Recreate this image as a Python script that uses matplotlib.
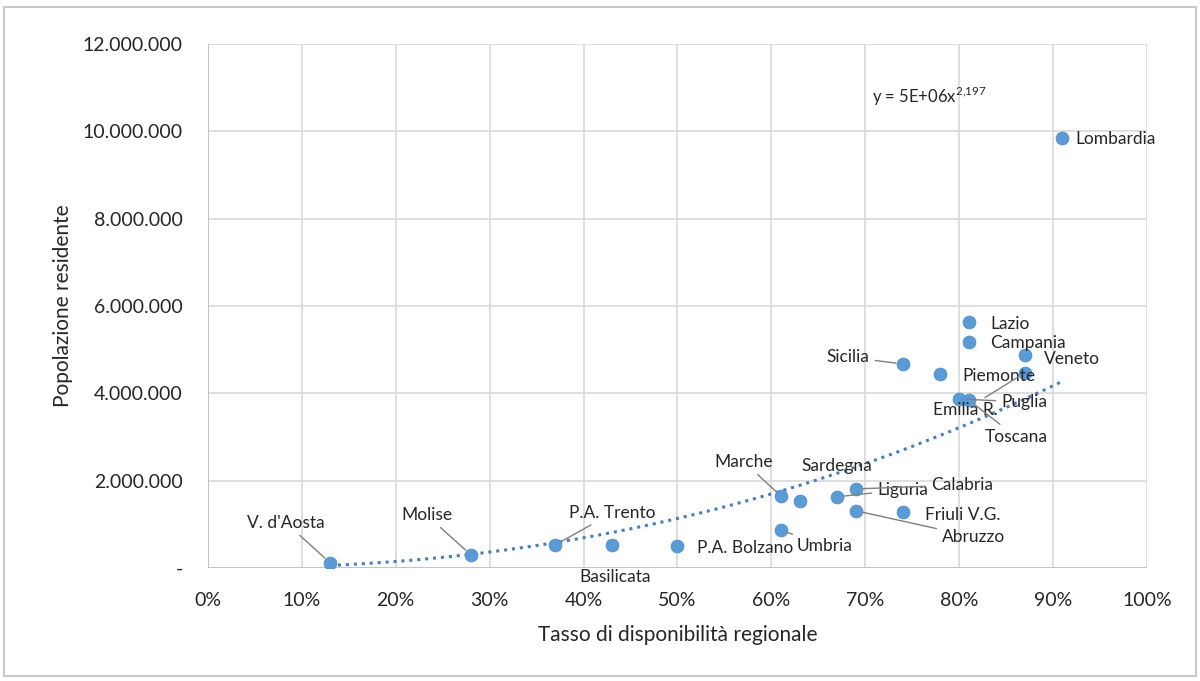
import numpy as np
import matplotlib.pyplot as plt
from matplotlib.patches import Rectangle
from matplotlib.ticker import FuncFormatter, PercentFormatter

plt.rcParams['font.family'] = ['Lato', 'DejaVu Sans']
plt.rcParams['mathtext.fontset'] = 'custom'
plt.rcParams['mathtext.rm'] = 'Lato'

# data: availability rate (share) and resident population
regions = ['V. d\'Aosta', 'Molise', 'P.A. Trento', 'Basilicata', 'P.A. Bolzano',
           'Marche', 'Sardegna', 'Umbria', 'Liguria', 'Calabria', 'Abruzzo',
           'Friuli V.G.', 'Sicilia', 'Piemonte', 'Lazio', 'Campania', 'Veneto',
           'Emilia R.', 'Puglia', 'Toscana', 'Lombardia']
tasso = [0.13, 0.28, 0.37, 0.43, 0.50,
         0.61, 0.63, 0.61, 0.67, 0.69, 0.69,
         0.74, 0.74, 0.78, 0.81, 0.81, 0.87,
         0.87, 0.80, 0.81, 0.91]
popolazione = [120000, 300000, 530000, 530000, 500000,
               1650000, 1530000, 870000, 1630000, 1810000, 1310000,
               1280000, 4670000, 4440000, 5630000, 5180000, 4880000,
               4470000, 3870000, 3850000, 9850000]

# label offsets in pixels (dx, dy) from the marker, and whether a leader line is drawn
label_offsets = {
    'V. d\'Aosta': (-83, 40, True), 'Molise': (-70, 40, True),
    'P.A. Trento': (14, 32, True), 'Basilicata': (-32, -32, False),
    'P.A. Bolzano': (20, -2, False), 'Marche': (-66, 34, True),
    'Sardegna': (2, 35, False), 'Umbria': (16, -16, True),
    'Liguria': (40, 7, True), 'Calabria': (75, 4, True),
    'Abruzzo': (86, -26, True), 'Friuli V.G.': (22, -3, False),
    'Sicilia': (-76, 7, True), 'Piemonte': (22, -2, False),
    'Lazio': (22, -2, False), 'Campania': (22, -1, False),
    'Veneto': (19, -4, False), 'Emilia R.': (-92, -37, True),
    'Puglia': (42, -3, True), 'Toscana': (16, -37, True),
    'Lombardia': (13, -1, False),
}

x = np.array(tasso)
y = np.array(popolazione)

# power trendline as Excel does it (least squares in log-log)
b, log_a = np.polyfit(np.log(x), np.log(y), 1)
a = np.exp(log_a)
xs = np.linspace(x.min(), x.max(), 200)

fig = plt.figure(figsize=(12, 6.81), dpi=100)
ax = fig.add_axes([0.1733, 0.166, 0.7825, 0.7694])

ax.plot(xs, a * xs ** b, linestyle=(0, (1, 1.6)), color='#4a7ebb', linewidth=2.2, zorder=2)
ax.scatter(x, y, s=85, color='#5b9bd5', edgecolors='#4f8fcc', linewidths=0.6, zorder=3)

for name, xi, yi in zip(regions, tasso, popolazione):
    dx, dy, leader = label_offsets[name]
    props = None
    if leader:
        props = dict(arrowstyle='-', color='#7f7f7f', lw=1.0, shrinkA=2, shrinkB=5)
    ax.annotate(name, (xi, yi), xytext=(dx, dy), textcoords='offset pixels',
                ha='left', va='center', fontsize=12.5, color='#262626',
                arrowprops=props, zorder=4)

ax.text(0.707, 10.79e6, 'y = 5E+06x$^{2{,}197}$', fontsize=12, color='#262626',
        va='center')

ax.set_xlim(0, 1)
ax.set_ylim(0, 12e6)
ax.set_xticks(np.arange(0, 1.01, 0.1))
ax.set_yticks(np.arange(0, 12.1e6, 2e6))
ax.xaxis.set_major_formatter(PercentFormatter(1.0, decimals=0))
ax.yaxis.set_major_formatter(FuncFormatter(
    lambda v, p: '-' if v == 0 else f'{int(v):,}'.replace(',', '.')))
ax.tick_params(length=0, labelsize=14, colors='#262626')
ax.tick_params(axis='x', pad=17)
ax.tick_params(axis='y', pad=18)
ax.grid(True, color='#d9d9d9', linewidth=1.2)
ax.set_axisbelow(True)
for s in ax.spines.values():
    s.set_visible(False)
ax.axhline(0, color='#bfbfbf', lw=1.2, zorder=1)
ax.axvline(0, color='#bfbfbf', lw=1.2, zorder=1)

ax.set_xlabel('Tasso di disponibilità regionale', fontsize=15, color='#262626', labelpad=12)
ax.set_ylabel('Popolazione residente', fontsize=15, color='#262626', labelpad=7)

fig.patches.append(Rectangle((0.003, 0.008), 0.994, 0.982, transform=fig.transFigure,
                             fill=False, edgecolor='#bfbfbf', lw=1.2))

fig.savefig('out.png', dpi=100)
